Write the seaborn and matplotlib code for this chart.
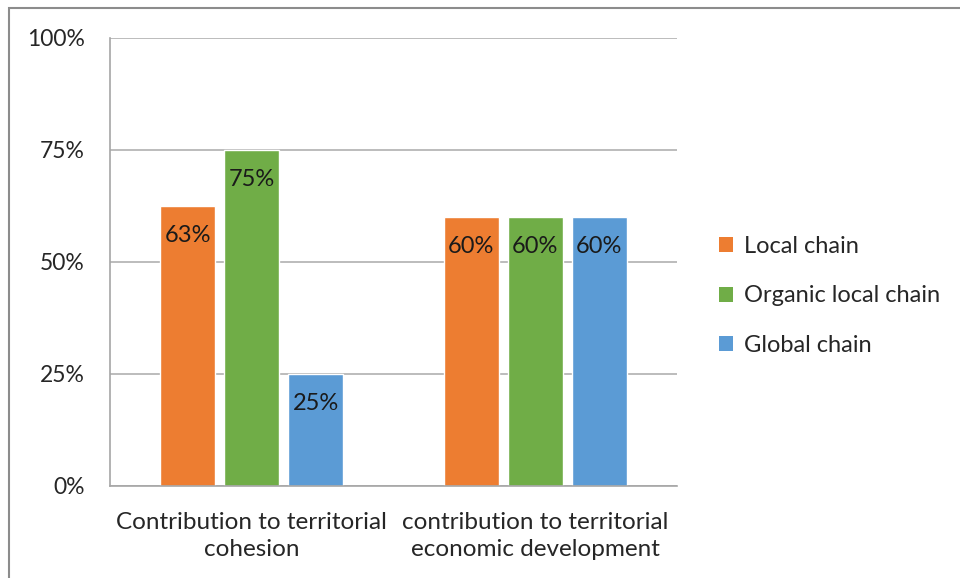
import matplotlib
matplotlib.use("Agg")
import matplotlib.pyplot as plt
import seaborn as sns
import pandas as pd
from matplotlib.patches import Rectangle, Patch

categories = ["Contribution to territorial\ncohesion", "contribution to territorial\neconomic development"]
series = ["Local chain", "Organic local chain", "Global chain"]
local_chain = [62.5, 60]
organic_local_chain = [75, 60]
global_chain = [25, 60]
value_labels = [["63%", "60%"], ["75%", "60%"], ["25%", "60%"]]
yticks = [0, 25, 50, 75, 100]
ytick_labels = ["0%", "25%", "50%", "75%", "100%"]
colors = ["#ED7D31", "#70AD47", "#5B9BD5"]

rows = []
for s, vals in zip(series, [local_chain, organic_local_chain, global_chain]):
    for c, v in zip(categories, vals):
        rows.append({"category": c, "series": s, "value": v})
df = pd.DataFrame(rows)

sns.set_style("white")
plt.rcParams["font.family"] = ["Lato", "DejaVu Sans"]

fig = plt.figure(figsize=(9.6, 5.78), dpi=100)
ax = fig.add_axes([110/960, 1-486/578, (677-110)/960, (486-38)/578])

sns.barplot(data=df, x="category", y="value", hue="series", order=categories,
            hue_order=series, palette=colors, width=0.677, gap=0.14,
            saturation=1, ax=ax, legend=False, errorbar=None)

for cont, labs in zip(ax.containers, value_labels):
    for patch, lab in zip(cont.patches, labs):
        ax.annotate(lab, (patch.get_x() + patch.get_width()/2, patch.get_height()),
                    xytext=(0, -21), textcoords="offset points", ha="center", va="center",
                    fontsize=17, color="#1a1a1a")

ax.set_ylim(0, 100)
ax.set_xlim(-0.5, 1.5)
ax.set_yticks(yticks)
ax.set_yticklabels(ytick_labels)
ax.yaxis.grid(True, color="#B0B0B0", linewidth=1.2)
ax.set_axisbelow(True)
ax.set_xticks([0, 1])
ax.set_xticklabels(categories, linespacing=1.4)
ax.set_xlabel("")
ax.set_ylabel("")
ax.tick_params(axis="x", length=0, pad=18.5, labelsize=17.5, labelcolor="#262626")
ax.tick_params(axis="y", length=0, pad=18, labelsize=16.5, labelcolor="#262626")
# category boundary ticks
ax.set_xticks([-0.5, 0.5, 1.5], minor=True)
ax.tick_params(axis="x", which="minor", length=7, width=1.2, color="#A6A6A6", direction="out")
# y tick marks extend left
ax.set_yticks(yticks, minor=True)
ax.tick_params(axis="y", which="minor", length=10, width=1.2, color="#B0B0B0", direction="out")

for side in ["top", "right"]:
    ax.spines[side].set_visible(False)
for side in ["left", "bottom"]:
    ax.spines[side].set_color("#A6A6A6")
    ax.spines[side].set_linewidth(1.2)

handles = [Patch(facecolor=c, edgecolor="none", label=s) for c, s in zip(colors, series)]
fig.legend(handles=handles, loc="center left", bbox_to_anchor=(698/960, 1-296/578),
           frameon=False, fontsize=17, handlelength=0.6, handleheight=0.6,
           handletextpad=0.45, labelspacing=1.2, labelcolor="#262626")

fig.patches.append(Rectangle((8.5/960, -0.1), 2, 1.1 - 8.5/578, transform=fig.transFigure,
                             fill=False, edgecolor="#8C8C8C", linewidth=1.5))

fig.savefig("out.png", dpi=100, facecolor="white")
